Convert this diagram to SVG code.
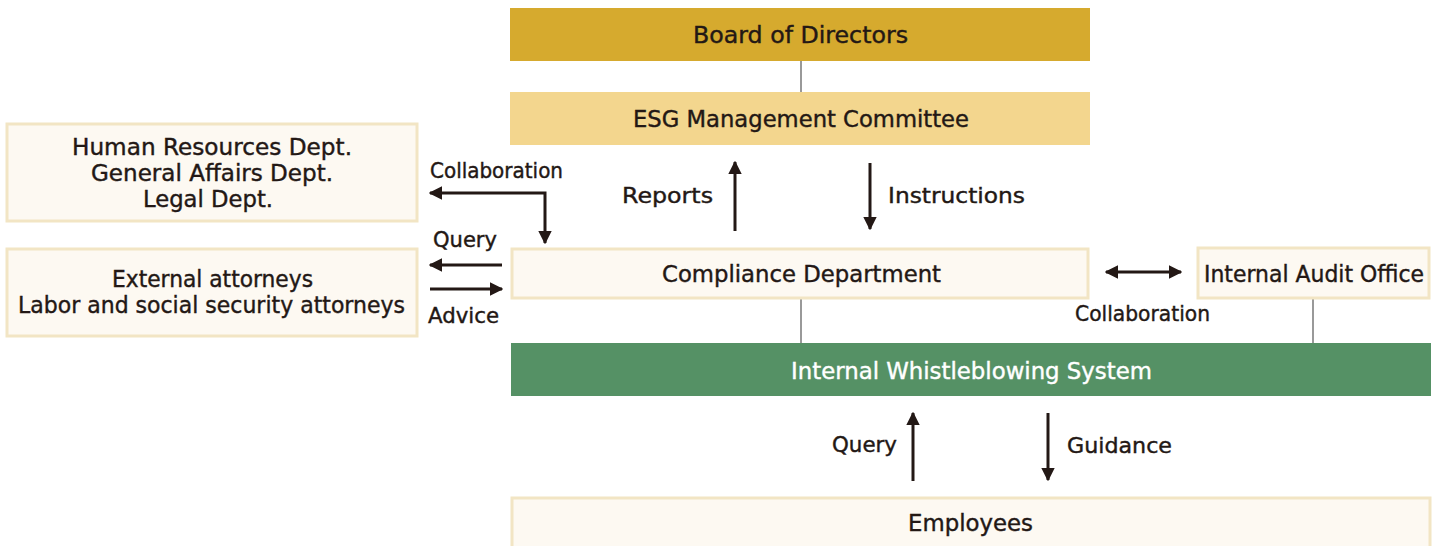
<svg xmlns="http://www.w3.org/2000/svg" width="1437" height="546" viewBox="0 0 1437 546">
<defs>
<marker id="ah" viewBox="0 0 10 10" refX="9" refY="5" markerWidth="4.5" markerHeight="4.5" markerUnits="strokeWidth" orient="auto-start-reverse">
<path d="M0,0 L10,5 L0,10 Z" fill="#231815"/>
</marker>
</defs>
<style>
text{font-family:"DejaVu Sans","Liberation Sans",sans-serif;font-size:22.5px;fill:#231815;stroke:#231815;stroke-width:0.4;text-anchor:middle;dominant-baseline:central}
.lbl{font-size:21px}
.wt{fill:#fff;stroke:#fff}
.box{fill:#fdf9f2;stroke:#f2e5c4;stroke-width:3}
.arr{stroke:#231815;stroke-width:3;fill:none}
.ln{stroke:#777;stroke-width:1.5}
</style>
<rect width="1437" height="546" fill="#fff"/>
<g id="connectors">
<line class="ln" x1="801" y1="61" x2="801" y2="92"/>
<line class="ln" x1="801" y1="298" x2="801" y2="343"/>
<line class="ln" x1="1313" y1="299" x2="1313" y2="343"/>
<line class="arr" x1="735" y1="231" x2="735" y2="162" marker-end="url(#ah)"/>
<line class="arr" x1="870" y1="163" x2="870" y2="229" marker-end="url(#ah)"/>
<polyline class="arr" points="430,193 545,193 545,243" marker-start="url(#ah)" marker-end="url(#ah)"/>
<line class="arr" x1="502" y1="265" x2="430" y2="265" marker-end="url(#ah)"/>
<line class="arr" x1="430" y1="289" x2="502" y2="289" marker-end="url(#ah)"/>
<line class="arr" x1="1106" y1="272" x2="1181" y2="272" marker-start="url(#ah)" marker-end="url(#ah)"/>
<line class="arr" x1="913" y1="481" x2="913" y2="413" marker-end="url(#ah)"/>
<line class="arr" x1="1048" y1="413" x2="1048" y2="480" marker-end="url(#ah)"/>
<text class="lbl" x="496.5" y="171" textLength="133" lengthAdjust="spacingAndGlyphs">Collaboration</text>
<text class="lbl" x="465" y="240" textLength="64" lengthAdjust="spacingAndGlyphs">Query</text>
<text class="lbl" x="463.5" y="316" textLength="71" lengthAdjust="spacingAndGlyphs">Advice</text>
<text class="lbl" x="667.5" y="196" textLength="91" lengthAdjust="spacingAndGlyphs">Reports</text>
<text class="lbl" x="956.5" y="196" textLength="137" lengthAdjust="spacingAndGlyphs">Instructions</text>
<text class="lbl" x="1142.5" y="314" textLength="135" lengthAdjust="spacingAndGlyphs">Collaboration</text>
<text class="lbl" x="864.5" y="445" textLength="65" lengthAdjust="spacingAndGlyphs">Query</text>
<text class="lbl" x="1119.5" y="446" textLength="105" lengthAdjust="spacingAndGlyphs">Guidance</text>
</g>
<g id="board">
<rect x="510" y="8" width="580" height="53" fill="#d6aa2e"/>
<text x="800.5" y="35" textLength="215" lengthAdjust="spacingAndGlyphs">Board of Directors</text>
</g>
<g id="esg">
<rect x="510" y="92" width="580" height="53" fill="#f3d68e"/>
<text x="801" y="119" textLength="336" lengthAdjust="spacingAndGlyphs">ESG Management Committee</text>
</g>
<g id="hr">
<rect class="box" x="7" y="124" width="410" height="97"/>
<text x="212" y="147" textLength="280" lengthAdjust="spacingAndGlyphs">Human Resources Dept.</text>
<text x="212" y="173" textLength="242" lengthAdjust="spacingAndGlyphs">General Affairs Dept.</text>
<text x="208" y="199" textLength="130" lengthAdjust="spacingAndGlyphs">Legal Dept.</text>
</g>
<g id="external">
<rect class="box" x="7" y="249" width="410" height="87"/>
<text x="212.5" y="279" textLength="201" lengthAdjust="spacingAndGlyphs">External attorneys</text>
<text x="211.5" y="305" textLength="387" lengthAdjust="spacingAndGlyphs">Labor and social security attorneys</text>
</g>
<g id="compliance">
<rect class="box" x="512" y="249" width="576" height="49"/>
<text x="801.5" y="274" textLength="279" lengthAdjust="spacingAndGlyphs">Compliance Department</text>
</g>
<g id="audit">
<rect class="box" x="1198" y="248" width="231" height="50"/>
<text x="1314" y="274" textLength="220" lengthAdjust="spacingAndGlyphs">Internal Audit Office</text>
</g>
<g id="whistle">
<rect x="511" y="343" width="920" height="53" fill="#559165"/>
<text class="wt" x="971.5" y="371" textLength="361" lengthAdjust="spacingAndGlyphs">Internal Whistleblowing System</text>
</g>
<g id="employees">
<rect class="box" x="512" y="498" width="918" height="52"/>
<text x="970.5" y="523" textLength="125" lengthAdjust="spacingAndGlyphs">Employees</text>
</g>
</svg>
